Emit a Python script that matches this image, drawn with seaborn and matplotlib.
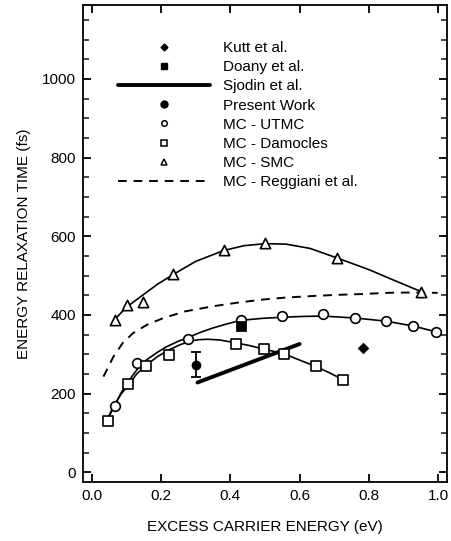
import numpy as np
import pandas as pd
import matplotlib
matplotlib.use("Agg")
import matplotlib.pyplot as plt
from matplotlib.lines import Line2D
from matplotlib.ticker import MultipleLocator
import seaborn as sns

# ---------------- data ----------------
kutt_x = [0.783]
kutt_y = [315]

doany_x = [0.430]
doany_y = [371]

sjodin_x = [0.305, 0.600]
sjodin_y = [228, 326]

present_x = [0.300]
present_y = [273]
present_err = [32]

utmc_x = [0.066, 0.130, 0.279, 0.430, 0.550, 0.667, 0.761, 0.849, 0.926, 0.993]
utmc_y = [169, 277, 338, 386, 397, 403, 392, 385, 372, 356]
utmc_fit_x = [0.053, 0.066, 0.085, 0.106, 0.130, 0.159, 0.190, 0.216, 0.250, 0.279, 0.315,
              0.351, 0.390, 0.430, 0.490, 0.550, 0.610, 0.667, 0.761, 0.849, 0.926, 0.993]
utmc_fit_y = [146, 169, 202, 231, 260, 286, 305, 319, 333, 343, 356,
              367, 377, 386, 391, 394, 396, 397, 392, 384, 372, 357]

dam_x = [0.048, 0.106, 0.156, 0.223, 0.415, 0.497, 0.555, 0.646, 0.725]
dam_y = [129, 223, 271, 299, 325, 313, 301, 269, 235]
dam_fit_x = [0.048, 0.066, 0.085, 0.106, 0.130, 0.159, 0.190, 0.223, 0.255, 0.283, 0.310,
             0.336, 0.370, 0.415, 0.455, 0.497, 0.555, 0.600, 0.646, 0.690, 0.725]
dam_fit_y = [141, 171, 199, 221, 250, 273, 294, 311, 324, 333, 337,
             338, 336, 329, 322, 313, 301, 285, 269, 251, 235]

smc_x = [0.066, 0.101, 0.149, 0.234, 0.382, 0.500, 0.707, 0.951]
smc_y = [388, 426, 433, 505, 564, 582, 545, 459]
smc_fit_x = [0.066, 0.101, 0.150, 0.190, 0.234, 0.300, 0.382, 0.440, 0.500, 0.560, 0.630,
             0.707, 0.800, 0.880, 0.951]
smc_fit_y = [388, 420, 452, 478, 502, 536, 564, 576, 581, 580, 569,
             545, 515, 485, 459]

regg_x = [0.034, 0.063, 0.090, 0.120, 0.160, 0.207, 0.270, 0.351, 0.420, 0.494, 0.560,
          0.638, 0.710, 0.782, 0.850, 0.926, 0.998]
regg_y = [243, 294, 329, 354, 375, 392, 409, 422, 431, 439, 444,
          448, 451, 453, 456, 457, 456]

labels = ["Kutt et al.", "Doany et al.", "Sjodin et al.", "Present Work",
          "MC - UTMC", "MC - Damocles", "MC - SMC", "MC - Reggiani et al."]

# ---------------- styling ----------------
sns.set_theme(style="ticks")
plt.rcParams['font.family'] = ['Liberation Sans', 'DejaVu Sans']
plt.rcParams['axes.linewidth'] = 1.3

W, H = 452, 541
fig = plt.figure(figsize=(W / 100, H / 100), dpi=100)
ax = fig.add_axes([83 / W, 1 - 482 / H, (447 - 83) / W, (482 - 5) / H])

k = 'black'
lw_curve = 1.2

# fitted curves
sns.lineplot(x=smc_fit_x, y=smc_fit_y, ax=ax, color=k, lw=lw_curve, sort=False, estimator=None)
sns.lineplot(x=utmc_fit_x, y=utmc_fit_y, ax=ax, color=k, lw=lw_curve, sort=False, estimator=None)
sns.lineplot(x=dam_fit_x, y=dam_fit_y, ax=ax, color=k, lw=lw_curve, sort=False, estimator=None)
sns.lineplot(x=regg_x, y=regg_y, ax=ax, color=k, lw=1.4, sort=False, estimator=None,
             dashes=False, linestyle=(0, (4.5, 3.5)))
sns.lineplot(x=sjodin_x, y=sjodin_y, ax=ax, color=k, lw=2.8, sort=False, estimator=None)

# markers
sns.scatterplot(x=smc_x, y=smc_y, ax=ax, marker='^', s=55, facecolor='white',
                edgecolor=k, linewidth=1.2, zorder=5)
sns.scatterplot(x=utmc_x, y=utmc_y, ax=ax, marker='o', s=48, facecolor='white',
                edgecolor=k, linewidth=1.2, zorder=5)
sns.scatterplot(x=dam_x, y=dam_y, ax=ax, marker='s', s=42, facecolor='white',
                edgecolor=k, linewidth=1.2, zorder=5)
sns.scatterplot(x=doany_x, y=doany_y, ax=ax, marker='s', s=42, color=k,
                edgecolor=k, zorder=6)
sns.scatterplot(x=kutt_x, y=kutt_y, ax=ax, marker='D', s=30, color=k,
                edgecolor=k, zorder=6)
ax.errorbar(present_x, present_y, yerr=present_err, fmt='o', color=k, ms=6,
            capsize=3.5, elinewidth=1.3, capthick=1.3, zorder=6)

# axes
ax.set_xlim(-0.025, 1.025)
ax.set_ylim(-25, 1188)
ax.yaxis.set_major_locator(MultipleLocator(200))
ax.yaxis.set_minor_locator(MultipleLocator(50))
ax.set_xticks([0, 0.2, 0.4, 0.6, 0.8, 1.0])
ax.set_xticklabels(["0.0", "0.2", "0.4", "0.6", "0.8", "1.0"])
ax.tick_params(axis='both', which='major', direction='in', length=6, width=1.3,
               top=True, right=True, labelsize=11, colors=k, pad=5)
ax.tick_params(axis='y', which='minor', direction='in', length=4, width=1.2,
               right=True, left=True)
for s in ax.spines.values():
    s.set_color(k)
    s.set_linewidth(1.3)
ax.set_xlabel("EXCESS CARRIER ENERGY (eV)", fontsize=11, color=k, labelpad=12)
ax.set_ylabel("ENERGY RELAXATION TIME (fs)", fontsize=11, color=k, labelpad=8)
ax.grid(False)

# legend
handles = [
    Line2D([], [], ls='none', marker='D', ms=3.5, color=k),
    Line2D([], [], ls='none', marker='s', ms=4.5, color=k),
    Line2D([], [], ls='-', lw=2.8, color=k),
    Line2D([], [], ls='none', marker='o', ms=5, color=k),
    Line2D([], [], ls='none', marker='o', ms=4, mfc='white', mec=k, mew=1.1),
    Line2D([], [], ls='none', marker='s', ms=4, mfc='white', mec=k, mew=1.1),
    Line2D([], [], ls='none', marker='^', ms=4.5, mfc='white', mec=k, mew=1.1),
    Line2D([], [], ls=(0, (4.5, 3.5)), lw=1.4, color=k),
]
leg = ax.legend(handles, labels, loc='upper left', frameon=False, fontsize=11,
                bbox_to_anchor=(118 / W, 1 - 41 / H), bbox_transform=fig.transFigure,
                borderpad=0, borderaxespad=0, handlelength=6.0, handletextpad=0.85,
                labelspacing=0.34)
for t in leg.get_texts():
    t.set_color(k)

fig.savefig("out.png", dpi=100, facecolor='white')
